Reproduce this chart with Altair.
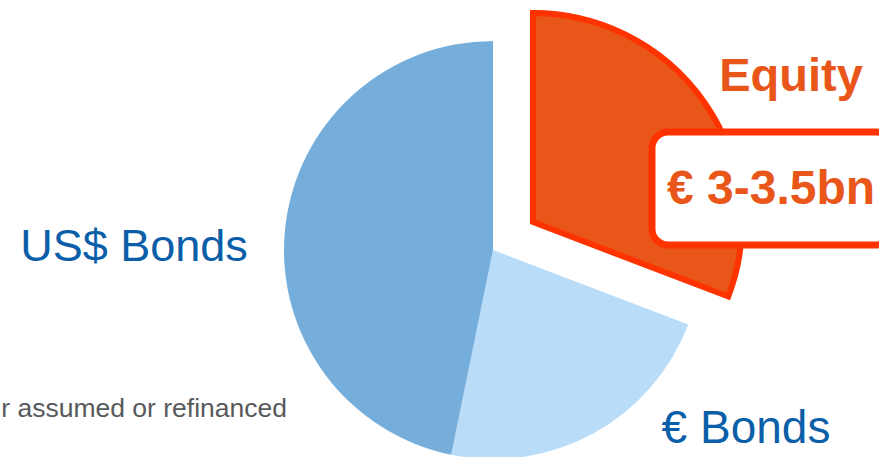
import altair as alt
import pandas as pd

# Data
categories = ["Equity", "€ Bonds", "US$ Bonds"]
shares = [30.8, 22.4, 46.8]
slice_order = [1, 2, 3]
fills = ["#e8561a", "#b9dcf9", "#76aedb"]
equity_amount = "€ 3-3.5bn"
footnote = "r assumed or refinanced"

pie_df = pd.DataFrame({"category": categories, "share": shares,
                       "order": slice_order, "fill": fills})

W, H = 879, 457
CX, CY = 493, 250          # pie centre
EX, EY = 533, 222          # exploded equity centre
R = 209

base = alt.Chart(pie_df)

bonds = base.mark_arc(outerRadius=R, strokeWidth=0).encode(
    theta=alt.Theta("share:Q", stack=True),
    order=alt.Order("order:Q"),
    fill=alt.Fill("fill:N", scale=None),
    opacity=alt.condition("datum.category === 'Equity'", alt.value(0), alt.value(1)),
    x=alt.value(CX), y=alt.value(CY),
)

equity = base.mark_arc(outerRadius=R, stroke="#ff3300", strokeWidth=6,
                       strokeJoin="miter").encode(
    theta=alt.Theta("share:Q", stack=True),
    order=alt.Order("order:Q"),
    fill=alt.Fill("fill:N", scale=None),
    opacity=alt.condition("datum.category === 'Equity'", alt.value(1), alt.value(0)),
    x=alt.value(EX), y=alt.value(EY),
)

box_df = pd.DataFrame({"text": [equity_amount]})
box = alt.Chart(box_df).mark_rect(
    fill="white", stroke="#ff3300", strokeWidth=7, cornerRadius=16
).encode(x=alt.value(652), x2=alt.value(892), y=alt.value(132), y2=alt.value(245))

amount = alt.Chart(box_df).mark_text(
    font="Liberation Sans", fontWeight="bold", fontSize=48, color="#e8561a",
    align="center", baseline="alphabetic"
).encode(text="text:N", x=alt.value(771), y=alt.value(204))

def label(cat, x, y, size, color, weight="normal", align="center"):
    return alt.Chart(pie_df).transform_filter(
        alt.datum.category == cat
    ).mark_text(font="Liberation Sans", fontWeight=weight, fontSize=size,
                color=color, align=align, baseline="alphabetic").encode(
        text="category:N", x=alt.value(x), y=alt.value(y))

equity_lbl = label("Equity", 791, 91, 47, "#e8561a", weight="bold")
usd_lbl = label("US$ Bonds", 134, 261, 45, "#0b5ea8")
eur_lbl = label("€ Bonds", 746, 443, 46, "#0b5ea8")

foot_df = pd.DataFrame({"text": [footnote]})
foot = alt.Chart(foot_df).mark_text(
    font="Liberation Sans", fontSize=26.5, color="#58595b",
    align="right", baseline="alphabetic"
).encode(text="text:N", x=alt.value(287), y=alt.value(417))

chart = alt.layer(bonds, foot, usd_lbl, eur_lbl, equity, box, amount, equity_lbl).properties(
    width=W, height=H, padding=0, autosize="none"
).configure_view(stroke=None)

chart.save("out.html", embed_options={"renderer": "svg", "actions": False})
